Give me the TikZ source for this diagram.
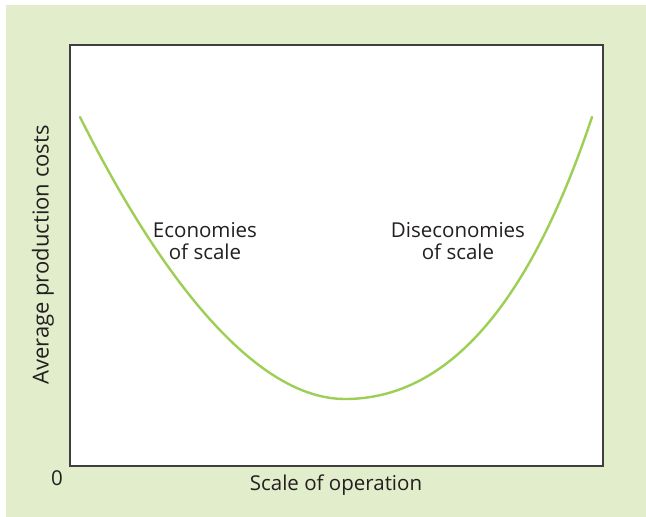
\documentclass[tikz,border=0pt]{standalone}
\usepackage{xcolor}
\usepackage{fontspec}
\setmainfont{Open Sans}
\usepackage{tikz}
\usetikzlibrary{positioning}
\definecolor{panelgreen}{HTML}{E1EDCB}
\definecolor{curvegreen}{HTML}{9DCF55}
\definecolor{boxgrey}{HTML}{3F3F3F}
\definecolor{txtgrey}{HTML}{231F20}

\begin{document}
\begin{tikzpicture}[x=1pt,y=-1pt,
			lbl/.style = {text=txtgrey, font=\fontsize{20.5}{22.5}\selectfont, align=center, inner sep=0pt},
			curve/.style = {draw=curvegreen, line width=2.4pt, line cap=round}]
			\useasboundingbox (0,0) rectangle (646,517);
			\fill[panelgreen] (6,5) rectangle (646,517);
			\filldraw[fill=white,draw=boxgrey,line width=1.6pt] (70,45) rectangle (603,466);
			
			\coordinate (lefttop) at (80,117);
			\coordinate (bottom) at (345,399);
			\coordinate (righttop) at (592,117);
			\draw[curve] (lefttop) .. controls (160,277) and (255,399) .. (bottom)
				.. controls (435,399) and (522,327) .. (righttop);
			
			\node[lbl] (econ) at (205,241) {Economies\\of scale};
			\node[lbl] (disecon) at (458,241) {Diseconomies\\of scale};
			\node[lbl] (origin) at (57,478) {0};
			\node[lbl] (xlabel) at (336,485) {Scale of operation};
			\node[lbl,font=\fontsize{22}{24}\selectfont,rotate=90] (ylabel) at (43,255) {Average production costs};
		\end{tikzpicture}
\end{document}
